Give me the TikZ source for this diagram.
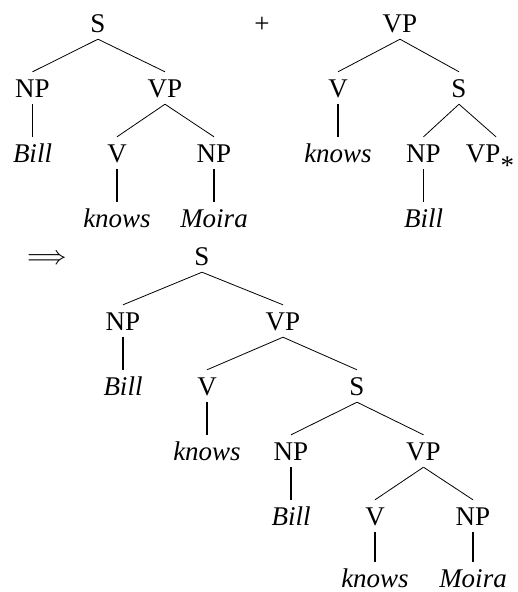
\documentclass[tikz,border=0pt]{standalone}
\usepackage{fontspec}
\setmainfont{Liberation Serif}
\newfontfamily\lmmath{Latin Modern Math}
\begin{document}
\begin{tikzpicture}[x=1pt,y=-1pt,
  lab/.style={anchor=base,text height=18pt,text depth=0pt,inner xsep=0pt,inner ysep=7pt,font=\fontsize{27}{30}\selectfont},
  word/.style={anchor=base,text height=25pt,text depth=0pt,inner xsep=0pt,inner ysep=0pt,font=\fontsize{27}{30}\selectfont\itshape},
  br/.style={line width=0.8pt},
  un/.style={line width=1.8pt}]
\useasboundingbox (0,0) rectangle (518,592);
% Tree 1
\node[lab] (as) at (98,32) {S};
\node[lab] (anp) at (32.5,97) {NP};
\node[lab] (avp) at (165,97) {VP};
\node[word] (abill) at (32.5,162) {Bill};
\node[lab] (av) at (117,162) {V};
\node[lab] (anp2) at (214,162) {NP};
\node[word] (aknows) at (117,227) {knows};
\node[word] (amoira) at (214,227) {Moira};
\draw[br] (as.south) -- (anp.north);
\draw[br] (as.south) -- (avp.north);
\draw[un] (anp.south) -- (abill.north);
\draw[br] (avp.south) -- (av.north);
\draw[br] (avp.south) -- (anp2.north);
\draw[un] (av.south) -- (aknows.north);
\draw[un] (anp2.south) -- (amoira.north);
% plus
\node[lab] (plus) at (262,32) {+};
% Tree 2
\node[lab] (bvp) at (400,32) {VP};
\node[lab] (bv) at (338,97) {V};
\node[lab] (bs) at (459,97) {S};
\node[word] (bknows) at (338,162) {knows};
\node[lab] (bnp) at (423.5,162) {NP};
\node[lab] (bvps) at (490,162) {VP\raisebox{-12pt}{*}};
\coordinate (bvpsend) at ([xshift=6pt]bvps.north);
\node[word] (bbill) at (423.5,227) {Bill};
\draw[br] (bvp.south) -- (bv.north);
\draw[br] (bvp.south) -- (bs.north);
\draw[un] (bv.south) -- (bknows.north);
\draw[br] (bs.south) -- (bnp.north);
\draw[br] (bs.south) -- (bvpsend);
\draw[un] (bnp.south) -- (bbill.north);
% arrow
\node[lab] (arr) at (47.5,264) {\lmmath ⟹};
% Tree 3
\node[lab] (cs) at (202,265) {S};
\node[lab] (cnp) at (123,330) {NP};
\node[lab] (cvp) at (283,330) {VP};
\node[word] (cbill) at (123,395) {Bill};
\node[lab] (cv) at (207,395) {V};
\node[lab] (cs2) at (357,395) {S};
\node[word] (cknows) at (207,460) {knows};
\node[lab] (cnp2) at (291,460) {NP};
\node[lab] (cvp2) at (423.5,460) {VP};
\node[word] (cbill2) at (291,525) {Bill};
\node[lab] (cv2) at (375,525) {V};
\node[lab] (cnp3) at (473,525) {NP};
\node[word] (cknows2) at (375,587) {knows};
\node[word] (cmoira) at (473,587) {Moira};
\draw[br] (cs.south) -- (cnp.north);
\draw[br] (cs.south) -- (cvp.north);
\draw[un] (cnp.south) -- (cbill.north);
\draw[br] (cvp.south) -- (cv.north);
\draw[br] (cvp.south) -- (cs2.north);
\draw[un] (cv.south) -- (cknows.north);
\draw[br] (cs2.south) -- (cnp2.north);
\draw[br] (cs2.south) -- (cvp2.north);
\draw[un] (cnp2.south) -- (cbill2.north);
\draw[br] (cvp2.south) -- (cv2.north);
\draw[br] (cvp2.south) -- (cnp3.north);
\draw[un] (cv2.south) -- (cknows2.north);
\draw[un] (cnp3.south) -- (cmoira.north);
\end{tikzpicture}
\end{document}
